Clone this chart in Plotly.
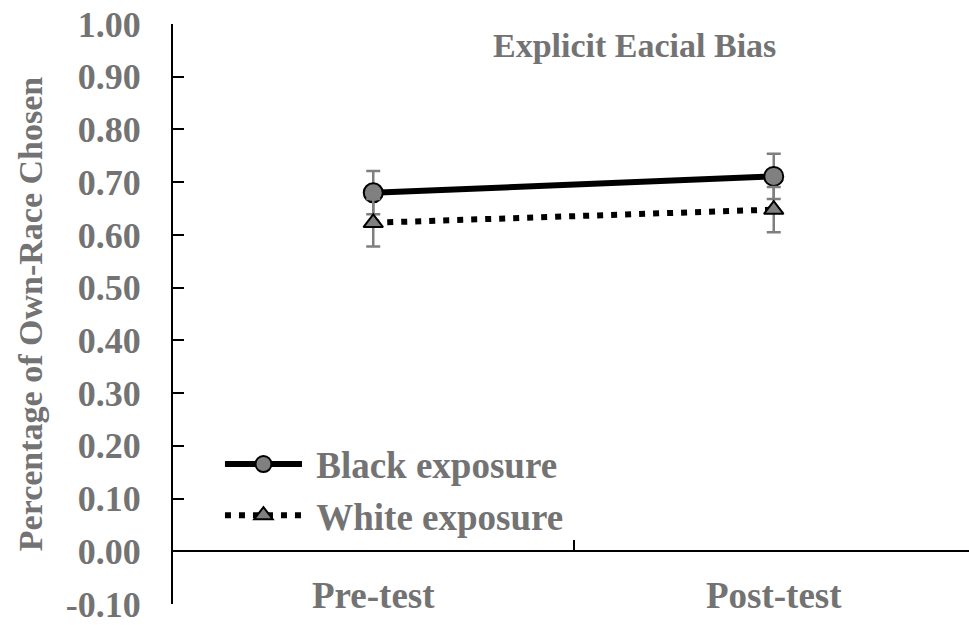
import plotly.graph_objects as go

# Test phases on the x axis
phases = ["Pre-test", "Post-test"]

# Mean proportion of own-race faces chosen, with standard errors
black_mean = [0.680, 0.711]
black_err = [0.041, 0.043]
white_mean = [0.623, 0.648]
white_err = [0.045, 0.043]

y_ticks = [-0.1, 0.0, 0.1, 0.2, 0.3, 0.4, 0.5, 0.6, 0.7, 0.8, 0.9, 1.0]
y_tick_text = ["-0.10", "0.00", "0.10", "0.20", "0.30", "0.40",
               "0.50", "0.60", "0.70", "0.80", "0.90", "1.00"]

TEXT_GRAY = "#737373"
MARK_GRAY = "#808080"
FONT = "Liberation Serif"

fig = go.Figure()

fig.add_trace(go.Scatter(
    x=phases, y=black_mean, name="\u00a0Black exposure",
    mode="lines+markers",
    line=dict(color="black", width=6),
    marker=dict(symbol="circle", size=19, color=MARK_GRAY,
                line=dict(color="black", width=2)),
    error_y=dict(type="data", array=black_err, visible=True,
                 color="#7f7f7f", thickness=2.5, width=7),
))

fig.add_trace(go.Scatter(
    x=phases, y=white_mean, name="\u00a0White exposure",
    mode="lines+markers",
    line=dict(color="black", width=6, dash="6px,8px"),
    marker=dict(symbol="triangle-up", size=17, color=MARK_GRAY,
                line=dict(color="black", width=2)),
    error_y=dict(type="data", array=white_err, visible=True,
                 color="#7f7f7f", thickness=2.5, width=7),
))

fig.add_annotation(
    text="Explicit Eacial Bias", xref="paper", yref="paper",
    x=0.580, y=0.999, showarrow=False,
    font=dict(family=FONT, size=34, color=TEXT_GRAY, weight="bold"),
)

fig.update_layout(
    width=969, height=625,
    margin=dict(l=173, r=0, t=24, b=21),
    paper_bgcolor="white", plot_bgcolor="white",
    font=dict(family=FONT, size=36, color=TEXT_GRAY, weight="bold"),
    showlegend=True,
    legend=dict(
        x=0.059, y=0.294, xanchor="left", yanchor="top",
        bgcolor="rgba(0,0,0,0)",
        font=dict(family=FONT, size=37, color=TEXT_GRAY, weight="bold"),
        tracegroupgap=0, itemwidth=77,
    ),
    xaxis=dict(
        type="category", range=[-0.5, 1.4875],
        tickson="boundaries", ticks="inside", ticklen=10,
        tickwidth=2, tickcolor="black",
        showline=True, linecolor="black", linewidth=2,
        showgrid=False, zeroline=False,
        anchor="free", position=0.0909,
        ticklabelstandoff=11,
        tickfont=dict(family=FONT, size=37, color=TEXT_GRAY, weight="bold"),
    ),
    yaxis=dict(
        range=[-0.1, 1.0], tickvals=y_ticks, ticktext=y_tick_text,
        ticks="inside", ticklen=11, tickwidth=2, tickcolor="black",
        showline=True, linecolor="black", linewidth=2,
        showgrid=False, zeroline=False,
        ticklabelstandoff=23,
        tickfont=dict(family=FONT, size=36, color=TEXT_GRAY, weight="bold"),
        title=dict(text="Percentage of Own-Race Chosen", standoff=13,
                   font=dict(family=FONT, size=34, color=TEXT_GRAY, weight="bold")),
    ),
)

fig.write_html("out.html")
